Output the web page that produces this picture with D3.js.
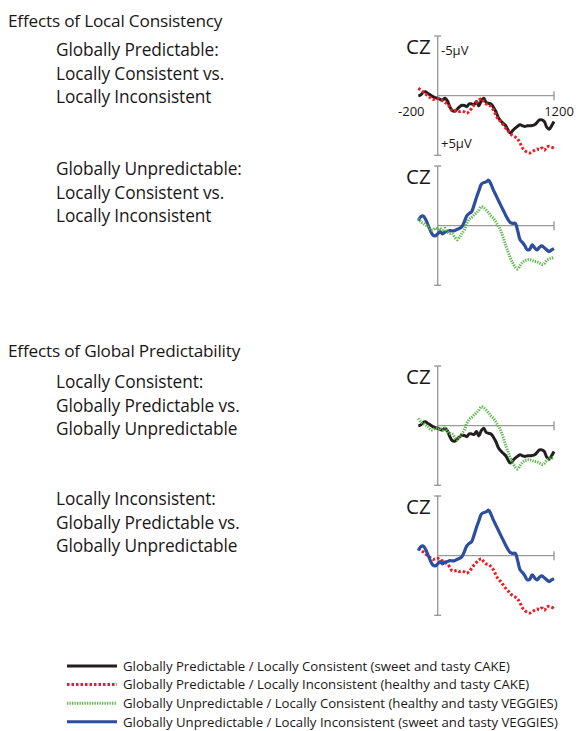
<!doctype html>
<html lang="en">
  <head>
    <meta charset="utf-8">
    <script src="https://d3js.org/d3.v7.min.js"></script>
    <title>Effects of Local Consistency and Global Predictability</title>
    <style>
      body { margin: 0; background: #fff; }
      text { font-family: "Open Sans", sans-serif; fill: #1a1718; }
      .axis { stroke: #9a9a9a; stroke-width: 1.4px; fill: none; }
      .wave { fill: none; stroke-linejoin: round; }
    </style>
  </head>
  <body>
    <svg width="576" height="731"></svg>

    <script>
      // time points (ms) shared by every waveform
      const times = d3.range(-200, 1201, 25);

      // amplitudes at CZ (microvolts, positive plotted downward)
      const gpLc = [0.0, -0.06, -0.28, -0.33, -0.17, -0.06, 0.08, 0.17, 0.22, 0.31, 0.36, 0.22, 0.44, 0.92, 1.25, 1.31,
        1.14, 0.94, 0.81, 0.83, 0.92, 0.69, 0.69, 0.75, 0.5, 0.86, 0.42, 0.22, 0.56, 0.64, 0.69, 0.97, 1.33, 1.83,
        2.11, 2.31, 2.5, 2.86, 3.14, 2.92, 2.72, 2.56, 2.44, 2.53, 2.58, 2.53, 2.53, 2.5, 2.44, 2.25, 2.03, 2.03,
        2.17, 2.64, 2.81, 2.53, 2.17];
      const gpLi = [-0.61, -0.47, -0.31, -0.14, 0.03, 0.17, 0.31, 0.28, 0.22, 0.36, 0.44, 0.58, 0.69, 0.97, 1.28, 1.28,
        1.22, 1.33, 1.31, 1.36, 1.47, 1.33, 1.06, 0.78, 0.56, 0.36, 0.25, 0.5, 0.69, 0.75, 0.92, 1.19, 1.61, 1.97,
        2.17, 2.44, 2.72, 2.94, 3.19, 3.36, 3.47, 3.64, 3.97, 4.39, 4.61, 4.75, 4.81, 4.69, 4.58, 4.47, 4.53, 4.39,
        4.58, 4.31, 4.25, 4.31, 4.42];
      const guLc = [-0.61, -0.33, -0.19, -0.06, 0.08, 0.31, 0.36, 0.22, 0.31, 0.22, 0.36, 0.22, 0.5, 0.64, 0.69, 0.97,
        1.19, 0.97, 0.64, 0.36, -0.19, -0.53, -0.69, -0.89, -1.08, -1.31, -1.58, -1.5, -1.31, -1.08, -0.81, -0.61,
        -0.33, 0.03, 0.42, 0.97, 1.61, 2.17, 2.72, 3.14, 3.47, 3.64, 3.36, 3.08, 2.94, 2.86, 2.86, 2.92, 3.0, 3.03,
        3.14, 3.25, 3.17, 2.92, 2.81, 2.72, 2.67];
      const guLi = [-0.42, -0.75, -0.81, -0.53, -0.06, 0.42, 0.78, 0.86, 0.69, 0.5, 0.69, 0.53, 0.5, 0.42, 0.44, 0.42,
        0.31, 0.22, 0.08, -0.33, -0.81, -1.03, -1.17, -1.72, -2.36, -2.92, -3.47, -3.61, -3.67, -3.81, -3.47, -2.97,
        -2.56, -2.14, -1.72, -1.31, -0.89, -0.53, -0.25, -0.19, -0.19, 0.42, 1.19, 1.42, 1.69, 2.03, 1.97, 1.61,
        1.86, 2.03, 1.81, 1.69, 1.86, 2.03, 2.17, 2.03, 1.92];

      const seriesNames = ["gpLc", "gpLi", "guLc", "guLi"];
      const seriesValues = { gpLc, gpLi, guLc, guLi };
      const legendLabels = [
        "Globally Predictable / Locally Consistent (sweet and tasty CAKE)",
        "Globally Predictable / Locally Inconsistent (healthy and tasty CAKE)",
        "Globally Unpredictable / Locally Consistent (healthy and tasty VEGGIES)",
        "Globally Unpredictable / Locally Inconsistent (sweet and tasty VEGGIES)"
      ];

      const headings = ["Effects of Local Consistency", "Effects of Global Predictability"];
      const panelTexts = [
        ["Globally Predictable:", "Locally Consistent vs.", "Locally Inconsistent"],
        ["Globally Unpredictable:", "Locally Consistent vs.", "Locally Inconsistent"],
        ["Locally Consistent:", "Globally Predictable vs.", "Globally Unpredictable"],
        ["Locally Inconsistent:", "Globally Predictable vs.", "Globally Unpredictable"]
      ];
      const panelSeries = [["gpLc", "gpLi"], ["guLi", "guLc"], ["gpLc", "guLc"], ["gpLi", "guLi"]];

      // styles per condition
      const styles = {
        gpLc: { color: "#231f20", width: 3, dash: null },
        gpLi: { color: "#ec1c24", width: 3, dash: "2.5,2" },
        guLc: { color: "#5db84a", width: 3, dash: "1.3,1.2" },
        guLi: { color: "#2d4d9f", width: 3.2, dash: null }
      };

      const svg = d3.select("svg");

      // layout
      const headingY = [27, 357];
      const textY = [56, 175, 388, 505];
      const panelTop = [36, 166, 366, 496];
      const lineGap = 23.6;

      const x = d3.scaleLinear().domain([-200, 1200]).range([418.3, 554]);

      headings.forEach((h, i) => {
        svg.append("text").attr("x", 8).attr("y", headingY[i])
          .attr("font-size", 17.2).attr("letter-spacing", -0.2).text(h);
      });

      panelTexts.forEach((lines, i) => {
        svg.append("g").selectAll("text")
          .data(lines)
          .enter().append("text")
          .attr("x", 56)
          .attr("y", (d, j) => textY[i] + j * lineGap)
          .attr("font-size", 17.3)
          .attr("letter-spacing", -0.1)
          .text(d => d);
      });

      const line = d3.line()
        .x((d, i) => x(times[i]))
        .curve(d3.curveCatmullRom);

      panelTop.forEach((top, i) => {
        const y = d3.scaleLinear().domain([-5, 5]).range([top, top + 119.3]);
        line.y(d => y(d));
        const g = svg.append("g");

        // axes
        g.append("line").attr("class", "axis")
          .attr("x1", x(0)).attr("x2", x(0)).attr("y1", y(-5)).attr("y2", y(5));
        g.append("line").attr("class", "axis")
          .attr("x1", x(0) - 3.5).attr("x2", x(0) + 3.5).attr("y1", y(-5)).attr("y2", y(-5));
        g.append("line").attr("class", "axis")
          .attr("x1", x(0) - 3.5).attr("x2", x(0) + 3.5).attr("y1", y(5)).attr("y2", y(5));
        g.append("line").attr("class", "axis")
          .attr("x1", x(0)).attr("x2", x(1200)).attr("y1", y(0)).attr("y2", y(0));
        g.append("line").attr("class", "axis")
          .attr("x1", x(1200)).attr("x2", x(1200)).attr("y1", y(0) - 4.5).attr("y2", y(0) + 4.5);

        g.append("text").attr("x", 406).attr("y", top + 17.5)
          .attr("font-size", 20.5).text("CZ");

        if (i === 0) {
          g.append("text").attr("x", 441).attr("y", y(-5) + 19)
            .attr("font-size", 13).text("-5μV");
          g.append("text").attr("x", 441).attr("y", y(5) - 7)
            .attr("font-size", 13).text("+5μV");
          g.append("text").attr("x", x(-200) - 7).attr("y", y(0) + 20.5)
            .attr("font-size", 13).attr("text-anchor", "middle").text("-200");
          g.append("text").attr("x", x(1200) + 5).attr("y", y(0) + 20.5)
            .attr("font-size", 13).attr("text-anchor", "middle").text("1200");
        }

        panelSeries[i].forEach(name => {
          const s = styles[name];
          g.append("path").attr("class", "wave")
            .attr("d", line(seriesValues[name]))
            .attr("stroke", s.color)
            .attr("stroke-width", s.width)
            .attr("stroke-dasharray", s.dash);
        });
      });

      // legend
      const legend = svg.append("g").selectAll("g")
        .data(seriesNames)
        .enter().append("g")
        .attr("transform", (d, i) => `translate(0, ${666 + i * 18.6})`);

      legend.append("line")
        .attr("x1", 67).attr("x2", 117).attr("y1", 0).attr("y2", 0)
        .attr("stroke", d => styles[d].color)
        .attr("stroke-width", 3)
        .attr("stroke-dasharray", d => styles[d].dash);

      legend.append("text")
        .attr("x", 123).attr("y", 4.8)
        .attr("font-size", 13.2)
        .text((d, i) => legendLabels[i]);
    </script>
  </body>
</html>
